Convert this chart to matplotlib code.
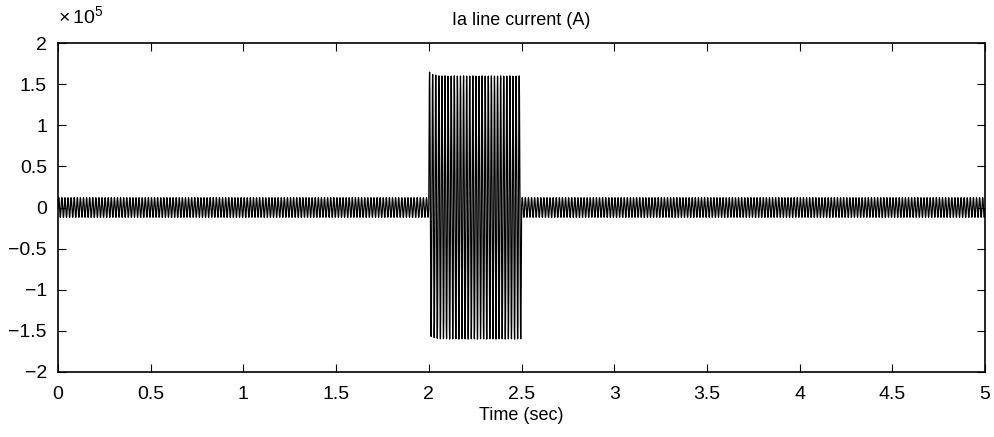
import numpy as np
import matplotlib
matplotlib.use("Agg")
import matplotlib.pyplot as plt

plt.rcParams['font.family'] = ['Liberation Sans', 'DejaVu Sans']
plt.rcParams['mathtext.fontset'] = 'custom'
plt.rcParams['mathtext.rm'] = 'Liberation Sans'

# waveform segments: (start s, end s, peak A)
seg_start = [0.0, 2.0, 2.5]
seg_end = [2.0, 2.5, 5.0]
seg_peak = [1.2e4, 1.6e5, 1.2e4]
fault_first_peak = 1.66e5  # first spike after fault inception
freq = 60.0
dt = 1.0 / 2000

xticks = [0, 0.5, 1, 1.5, 2, 2.5, 3, 3.5, 4, 4.5, 5]
yticks = [-2e5, -1.5e5, -1e5, -0.5e5, 0, 0.5e5, 1e5, 1.5e5, 2e5]

t_all = []
i_all = []
for a, b, pk in zip(seg_start, seg_end, seg_peak):
    t = np.arange(a, b, dt)
    i = pk * np.sin(2 * np.pi * freq * t)
    if pk > 1e5:
        # decaying dc offset gives the taller first spike
        i = i + (fault_first_peak - pk) * np.exp(-(t - a) / 0.02)
    t_all.append(t)
    i_all.append(i)
t_all = np.concatenate(t_all)
i_all = np.concatenate(i_all)

fig = plt.figure(figsize=(9.94, 4.37), dpi=100)
ax = fig.add_axes([58 / 994, 1 - 372 / 437, 927 / 994, 329 / 437])
ax.plot(t_all, i_all, color='black', linewidth=0.9)

ax.set_xlim(0, 5)
ax.set_ylim(-2e5, 2e5)
ax.set_xticks(xticks)
ax.set_yticks(yticks)
ax.set_xticklabels(['0', '0.5', '1', '1.5', '2', '2.5', '3', '3.5', '4', '4.5', '5'])
ax.set_yticklabels(['\u22122', '\u22121.5', '\u22121', '\u22120.5', '0', '0.5', '1', '1.5', '2'])
ax.tick_params(direction='in', top=True, right=True, labelsize=14, length=6, width=0.8)
ax.tick_params(axis='x', pad=10)
ax.tick_params(axis='y', pad=8)
for s in ax.spines.values():
    s.set_linewidth(1.2)

ax.text(0, 1.045, r'$\times\,10^5$', transform=ax.transAxes, fontsize=14, ha='left', va='bottom')
ax.set_title('Ia line current (A)', fontsize=13, pad=13)
ax.set_xlabel('Time (sec)', fontsize=13, labelpad=3)

fig.savefig('out.png', dpi=100)
